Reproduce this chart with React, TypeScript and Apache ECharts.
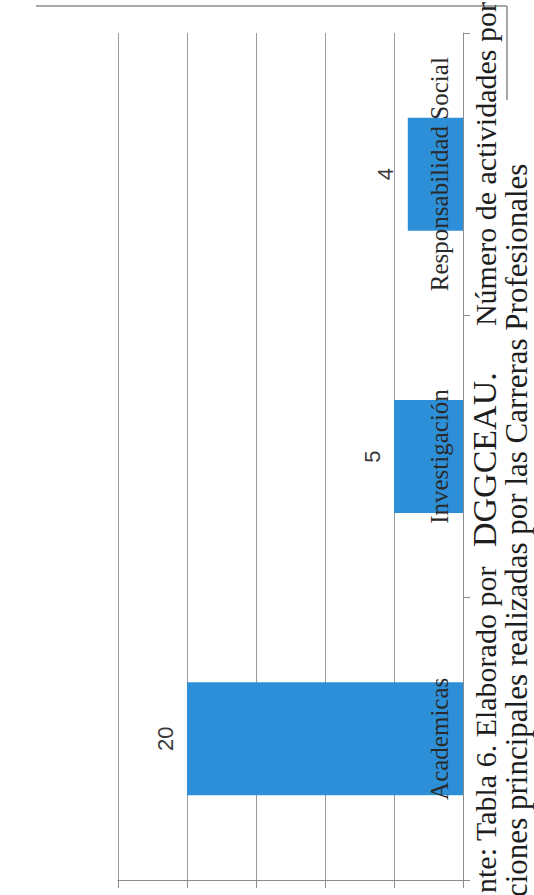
import React, { useEffect, useRef } from "react";
import * as echarts from "echarts";

const categories = ["Academicas", "Investigación", "Responsabilidad Social"];
const values = [20, 5, 4];
const captionLine1a = "nte: Tabla 6. Elaborado por";
const captionLine1b = "DGGCEAU.";
const captionLine1c = "Número de actividades por";
const captionLine2 = "ciones principales realizadas por las Carreras Profesionales";

export default function App() {
  const ref = useRef<HTMLDivElement>(null);
  useEffect(() => {
    if (!ref.current) return;
    const chart = echarts.init(ref.current, null, { renderer: "svg" });
    const serif = "'Liberation Serif', 'Times New Roman', serif";
    const captionStyle = (text: string, align: string, size: number) => ({
      text,
      font: size + "px " + serif,
      fill: "#1e1e1e",
      align,
      verticalAlign: "middle",
    });
    chart.setOption({
      animation: false,
      backgroundColor: "#ffffff",
      grid: { left: 118, right: 71, top: 33, bottom: 15, containLabel: false },
      xAxis: {
        type: "value",
        inverse: true,
        min: 0,
        max: 25,
        interval: 5,
        position: "bottom",
        axisLine: { show: true, lineStyle: { color: "#8c8c8c", width: 1 } },
        axisTick: { show: true, length: 8, lineStyle: { color: "#8c8c8c" } },
        axisLabel: { show: false },
        splitLine: { show: true, lineStyle: { color: "#9a9a9a", width: 1 } },
      },
      yAxis: {
        type: "category",
        position: "right",
        data: categories,
        axisLine: { show: true, lineStyle: { color: "#8c8c8c", width: 1 } },
        axisTick: { show: true, length: 7, lineStyle: { color: "#8c8c8c" } },
        axisLabel: {
          inside: true,
          interval: 0,
          hideOverlap: false,
          rotate: 90,
          margin: 24,
          align: "center",
          verticalAlign: "middle",
          color: "#2a2a2a",
          fontFamily: serif,
          fontSize: 25,
        },
        splitLine: { show: false },
        z: 5,
      },
      series: [
        {
          type: "bar",
          data: values,
          barWidth: "40%",
          itemStyle: { color: "#2d8fd8" },
          z: 2,
          label: {
            show: true,
            position: "left",
            distance: 22,
            rotate: 90,
            align: "center",
            verticalAlign: "middle",
            color: "#3a3a3a",
            fontFamily: "'Liberation Sans', Arial, sans-serif",
            fontSize: 22,
          },
        },
      ],
      graphic: [
        {
          type: "line",
          shape: { x1: 36, y1: 6, x2: 507, y2: 6 },
          style: { stroke: "#8a8a8a", lineWidth: 1.5 },
        },
        {
          type: "line",
          shape: { x1: 507, y1: 6, x2: 507, y2: 100 },
          style: { stroke: "#8a8a8a", lineWidth: 1.5 },
        },
        {
          type: "text",
          x: 485,
          y: 893,
          rotation: Math.PI / 2,
          style: captionStyle(captionLine1a, "left", 30),
          z: 10,
        },
        {
          type: "text",
          x: 484,
          y: 547,
          rotation: Math.PI / 2,
          style: captionStyle(captionLine1b, "left", 34),
          z: 10,
        },
        {
          type: "text",
          x: 485,
          y: 2,
          rotation: Math.PI / 2,
          style: captionStyle(captionLine1c, "right", 30),
          z: 10,
        },
        {
          type: "text",
          x: 516,
          y: 897,
          rotation: Math.PI / 2,
          style: captionStyle(captionLine2, "left", 31),
          z: 10,
        },
      ],
    });
    return () => chart.dispose();
  }, []);
  return (
    <div
      ref={ref}
      style={{ position: "absolute", left: 0, top: 0, width: 534, height: 895 }}
    />
  );
}
